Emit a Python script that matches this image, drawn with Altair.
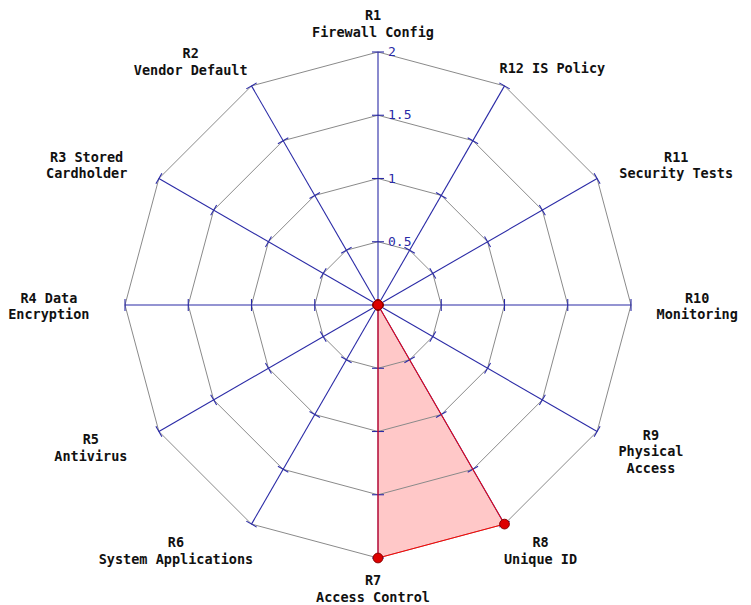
import numpy as np
import pandas as pd
import altair as alt

# ---- data ----
label_lines = [
    ["R1", "Firewall Config"],
    ["R2", "Vendor Default"],
    ["R3 Stored", "Cardholder"],
    ["R4 Data", "Encryption"],
    ["R5", "Antivirus"],
    ["R6", "System Applications"],
    ["R7", "Access Control"],
    ["R8", "Unique ID"],
    ["R9", "Physical", "Access"],
    ["R10", "Monitoring"],
    ["R11", "Security Tests"],
    ["R12 IS Policy"],
]
values = [0, 0, 0, 0, 0, 0, 2, 2, 0, 0, 0, 0]
ring_levels = [0.5, 1.0, 1.5, 2.0]
tick_labels = ["0.5", "1", "1.5", "2"]
max_value = 2.0

# ---- layout ----
W, H = 735, 596
S = 126.5            # pixels per unit
CX, CY = 370, 297    # centre in plot pixels
FS = 13.5
CHAR_W = 0.602 * 14
LINE_H = 16.5
R_LABEL = 266.0      # px
LABEL_SHIFT = -5.0   # px

n = len(values)
ang = np.deg2rad(90 + 30 * np.arange(n))
cosA, sinA = np.cos(ang), np.sin(ang)

xdom = [-CX / S, (W - CX) / S]
ydom = [-(H - CY) / S, CY / S]
xs = alt.Scale(domain=xdom, nice=False, zero=False)
ys = alt.Scale(domain=ydom, nice=False, zero=False)

# rings
ring_rows = []
for lv in ring_levels:
    for k in range(n + 1):
        i = k % n
        ring_rows.append({"level": lv, "k": k, "x": lv * cosA[i], "y": lv * sinA[i]})
rings = pd.DataFrame(ring_rows)

# spokes
spokes = pd.DataFrame({"x": 0.0, "y": 0.0, "x2": max_value * cosA, "y2": max_value * sinA})

# ticks
th = 6.0 / S
tick_rows = []
for lv in ring_levels:
    for i in range(n):
        px, py = lv * cosA[i], lv * sinA[i]
        tick_rows.append({"x": px - th * sinA[i], "y": py + th * cosA[i],
                          "x2": px + th * sinA[i], "y2": py - th * cosA[i]})
ticks = pd.DataFrame(tick_rows)

tick_text = pd.DataFrame({"y": ring_levels, "t": tick_labels, "x": 0.0})

# data polygon
poly_rows = []
for k in range(n + 1):
    i = k % n
    poly_rows.append({"k": k, "x": values[i] * cosA[i], "y": values[i] * sinA[i]})
poly = pd.DataFrame(poly_rows)
pts = pd.DataFrame({"x": [values[i] * cosA[i] for i in range(n)],
                    "y": [values[i] * sinA[i] for i in range(n)]})

# category labels
lab_rows = []
for i, lines in enumerate(label_lines):
    c, s = cosA[i], sinA[i]
    c = 0.0 if abs(c) < 1e-9 else c
    s = 0.0 if abs(s) < 1e-9 else s
    half_w = max(len(l) for l in lines) * CHAR_W / 2
    half_h = len(lines) * LINE_H / 2
    px, py = R_LABEL * c, R_LABEL * s
    kx = min(1.0, 1.4 * abs(c))
    bx = px + np.sign(c) * (kx * half_w + 16 * abs(c)) + LABEL_SHIFT
    by = py + s * half_h - 2.0
    for j, line in enumerate(lines):
        ly = by + half_h - (j + 0.5) * LINE_H
        lab_rows.append({"x": bx / S, "y": ly / S, "t": line})
labels = pd.DataFrame(lab_rows)

BLUE = "#2a2aa6"
GRAY = "#8a8a8a"

fill = alt.Chart(poly).mark_line(fill="#ffc8c8", stroke=None, strokeWidth=0).encode(
    x=alt.X("x:Q", scale=xs, axis=None), y=alt.Y("y:Q", scale=ys, axis=None),
    order="k:Q")
ring_l = alt.Chart(rings).mark_line(color=GRAY, strokeWidth=1).encode(
    x=alt.X("x:Q", scale=xs, axis=None), y=alt.Y("y:Q", scale=ys, axis=None),
    detail="level:N", order="k:Q")
spoke_l = alt.Chart(spokes).mark_rule(color=BLUE, strokeWidth=1.1).encode(
    x=alt.X("x:Q", scale=xs, axis=None), y=alt.Y("y:Q", scale=ys, axis=None),
    x2="x2:Q", y2="y2:Q")
tick_l = alt.Chart(ticks).mark_rule(color=BLUE, strokeWidth=1.1).encode(
    x=alt.X("x:Q", scale=xs, axis=None), y=alt.Y("y:Q", scale=ys, axis=None),
    x2="x2:Q", y2="y2:Q")
tick_t = alt.Chart(tick_text).mark_text(color=BLUE, font="DejaVu Sans Mono", fontSize=13,
                                        align="left", baseline="middle", dx=10).encode(
    x=alt.X("x:Q", scale=xs, axis=None), y=alt.Y("y:Q", scale=ys, axis=None), text="t:N")
outline = alt.Chart(poly).mark_line(color="#ff0000", strokeWidth=1).encode(
    x=alt.X("x:Q", scale=xs, axis=None), y=alt.Y("y:Q", scale=ys, axis=None),
    order="k:Q")
points = alt.Chart(pts).mark_point(filled=True, size=95, color="#dd0000",
                                   stroke="#8a0000", strokeWidth=1, opacity=1).encode(
    x=alt.X("x:Q", scale=xs, axis=None), y=alt.Y("y:Q", scale=ys, axis=None))
lab = alt.Chart(labels).mark_text(font="DejaVu Sans Mono", fontWeight="bold", fontSize=FS,
                                  color="#111111", align="center", baseline="middle").encode(
    x=alt.X("x:Q", scale=xs, axis=None), y=alt.Y("y:Q", scale=ys, axis=None), text="t:N")

chart = alt.layer(fill, ring_l, spoke_l, tick_l, tick_t, outline, points, lab).properties(
    width=W, height=H, padding=0,
    autosize=alt.AutoSizeParams(type="none"),
).configure_view(stroke=None)

chart.save("out.html", embed_options={"renderer": "svg", "actions": False})
